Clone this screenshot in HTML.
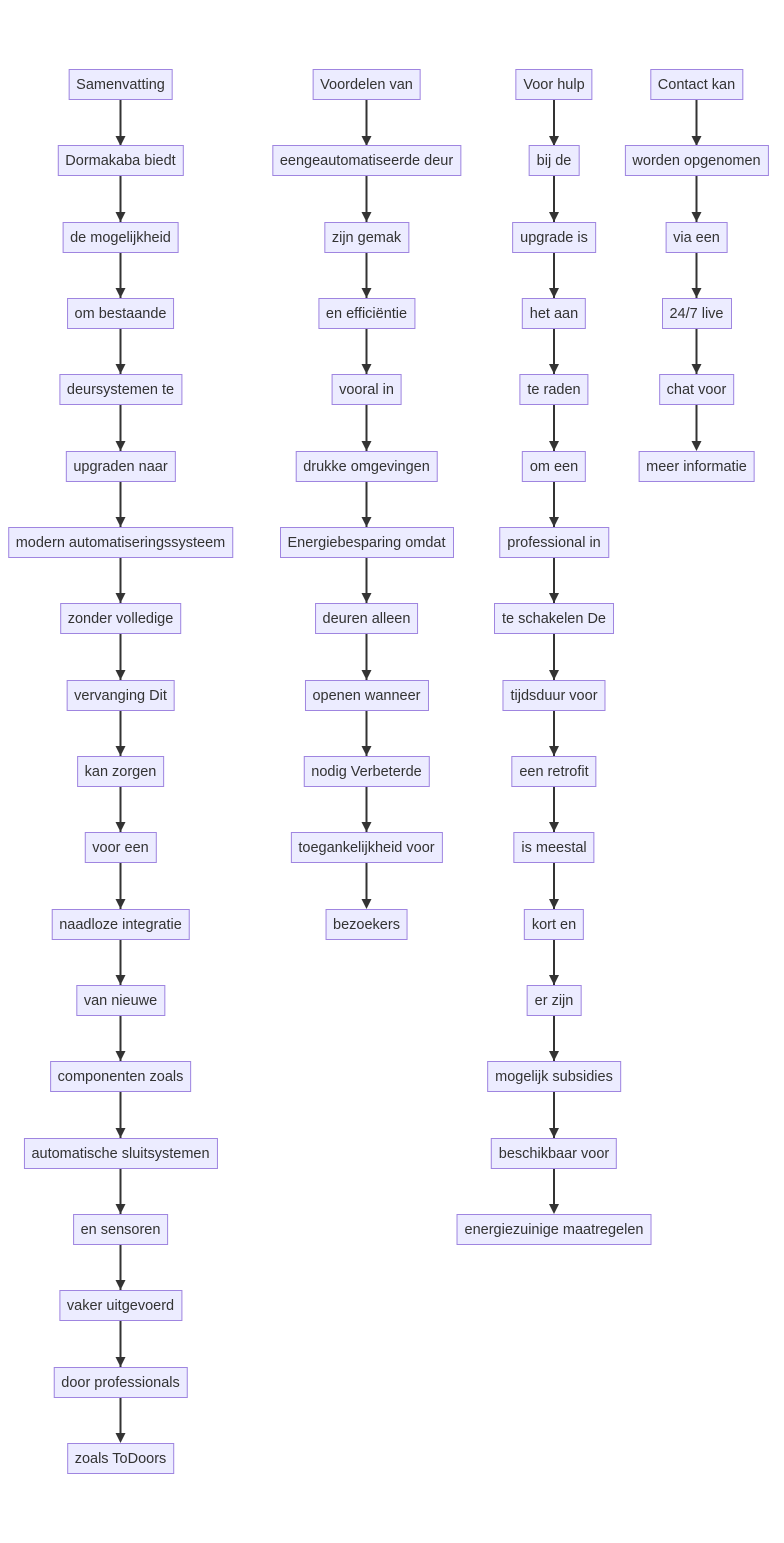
<!DOCTYPE html>
<html><head><meta charset="utf-8"><style>
body{margin:0;width:784px;height:1543px;background:#fff;position:relative;overflow:hidden;font-family:"Liberation Sans",Arial,sans-serif;}
svg{position:absolute;left:0;top:0}
.b{position:absolute;transform:translateX(-50%);height:29px;line-height:31px;padding:0 7px;border:1px solid #9f85e0;background:#ECECFF;color:#333;font-size:14.5px;white-space:nowrap;box-sizing:content-box}
</style></head><body>
<svg width="784" height="1543">
<g stroke="#333" stroke-width="2">
<line x1="120.5" y1="100" x2="120.5" y2="1436"/>
<line x1="366.5" y1="100" x2="366.5" y2="902"/>
<line x1="554" y1="100" x2="554" y2="1207"/>
<line x1="696.5" y1="100" x2="696.5" y2="444"/>
</g>
<g fill="#333">
<polygon points="115.5,136 125.5,136 120.5,146"/><polygon points="115.5,212 125.5,212 120.5,222"/><polygon points="115.5,288 125.5,288 120.5,298"/><polygon points="115.5,364 125.5,364 120.5,374"/><polygon points="115.5,441 125.5,441 120.5,451"/><polygon points="115.5,517 125.5,517 120.5,527"/><polygon points="115.5,593 125.5,593 120.5,603"/><polygon points="115.5,670 125.5,670 120.5,680"/><polygon points="115.5,746 125.5,746 120.5,756"/><polygon points="115.5,822 125.5,822 120.5,832"/><polygon points="115.5,899 125.5,899 120.5,909"/><polygon points="115.5,975 125.5,975 120.5,985"/><polygon points="115.5,1051 125.5,1051 120.5,1061"/><polygon points="115.5,1128 125.5,1128 120.5,1138"/><polygon points="115.5,1204 125.5,1204 120.5,1214"/><polygon points="115.5,1280 125.5,1280 120.5,1290"/><polygon points="115.5,1357 125.5,1357 120.5,1367"/><polygon points="115.5,1433 125.5,1433 120.5,1443"/>
<polygon points="361.5,136 371.5,136 366.5,146"/><polygon points="361.5,212 371.5,212 366.5,222"/><polygon points="361.5,288 371.5,288 366.5,298"/><polygon points="361.5,364 371.5,364 366.5,374"/><polygon points="361.5,441 371.5,441 366.5,451"/><polygon points="361.5,517 371.5,517 366.5,527"/><polygon points="361.5,593 371.5,593 366.5,603"/><polygon points="361.5,670 371.5,670 366.5,680"/><polygon points="361.5,746 371.5,746 366.5,756"/><polygon points="361.5,822 371.5,822 366.5,832"/><polygon points="361.5,899 371.5,899 366.5,909"/>
<polygon points="549,136 559,136 554,146"/><polygon points="549,212 559,212 554,222"/><polygon points="549,288 559,288 554,298"/><polygon points="549,364 559,364 554,374"/><polygon points="549,441 559,441 554,451"/><polygon points="549,517 559,517 554,527"/><polygon points="549,593 559,593 554,603"/><polygon points="549,670 559,670 554,680"/><polygon points="549,746 559,746 554,756"/><polygon points="549,822 559,822 554,832"/><polygon points="549,899 559,899 554,909"/><polygon points="549,975 559,975 554,985"/><polygon points="549,1051 559,1051 554,1061"/><polygon points="549,1128 559,1128 554,1138"/><polygon points="549,1204 559,1204 554,1214"/>
<polygon points="691.5,136 701.5,136 696.5,146"/><polygon points="691.5,212 701.5,212 696.5,222"/><polygon points="691.5,288 701.5,288 696.5,298"/><polygon points="691.5,364 701.5,364 696.5,374"/><polygon points="691.5,441 701.5,441 696.5,451"/>
</g>
</svg>
<div class="b" style="left:120.5px;top:69px">Samenvatting</div>
<div class="b" style="left:120.5px;top:145px">Dormakaba biedt</div>
<div class="b" style="left:120.5px;top:222px">de mogelijkheid</div>
<div class="b" style="left:120.5px;top:298px">om bestaande</div>
<div class="b" style="left:120.5px;top:374px">deursystemen te</div>
<div class="b" style="left:120.5px;top:451px">upgraden naar</div>
<div class="b" style="left:120.5px;top:527px">modern automatiseringssysteem</div>
<div class="b" style="left:120.5px;top:603px">zonder volledige</div>
<div class="b" style="left:120.5px;top:680px">vervanging Dit</div>
<div class="b" style="left:120.5px;top:756px">kan zorgen</div>
<div class="b" style="left:120.5px;top:832px">voor een</div>
<div class="b" style="left:120.5px;top:909px">naadloze integratie</div>
<div class="b" style="left:120.5px;top:985px">van nieuwe</div>
<div class="b" style="left:120.5px;top:1061px">componenten zoals</div>
<div class="b" style="left:120.5px;top:1138px">automatische sluitsystemen</div>
<div class="b" style="left:120.5px;top:1214px">en sensoren</div>
<div class="b" style="left:120.5px;top:1290px">vaker uitgevoerd</div>
<div class="b" style="left:120.5px;top:1367px">door professionals</div>
<div class="b" style="left:120.5px;top:1443px">zoals ToDoors</div>

<div class="b" style="left:366.5px;top:69px">Voordelen van</div>
<div class="b" style="left:366.5px;top:145px">eengeautomatiseerde deur</div>
<div class="b" style="left:366.5px;top:222px">zijn gemak</div>
<div class="b" style="left:366.5px;top:298px">en efficiëntie</div>
<div class="b" style="left:366.5px;top:374px">vooral in</div>
<div class="b" style="left:366.5px;top:451px">drukke omgevingen</div>
<div class="b" style="left:366.5px;top:527px">Energiebesparing omdat</div>
<div class="b" style="left:366.5px;top:603px">deuren alleen</div>
<div class="b" style="left:366.5px;top:680px">openen wanneer</div>
<div class="b" style="left:366.5px;top:756px">nodig Verbeterde</div>
<div class="b" style="left:366.5px;top:832px">toegankelijkheid voor</div>
<div class="b" style="left:366.5px;top:909px">bezoekers</div>

<div class="b" style="left:554px;top:69px">Voor hulp</div>
<div class="b" style="left:554px;top:145px">bij de</div>
<div class="b" style="left:554px;top:222px">upgrade is</div>
<div class="b" style="left:554px;top:298px">het aan</div>
<div class="b" style="left:554px;top:374px">te raden</div>
<div class="b" style="left:554px;top:451px">om een</div>
<div class="b" style="left:554px;top:527px">professional in</div>
<div class="b" style="left:554px;top:603px">te schakelen De</div>
<div class="b" style="left:554px;top:680px">tijdsduur voor</div>
<div class="b" style="left:554px;top:756px">een retrofit</div>
<div class="b" style="left:554px;top:832px">is meestal</div>
<div class="b" style="left:554px;top:909px">kort en</div>
<div class="b" style="left:554px;top:985px">er zijn</div>
<div class="b" style="left:554px;top:1061px">mogelijk subsidies</div>
<div class="b" style="left:554px;top:1138px">beschikbaar voor</div>
<div class="b" style="left:554px;top:1214px">energiezuinige maatregelen</div>

<div class="b" style="left:696.5px;top:69px">Contact kan</div>
<div class="b" style="left:696.5px;top:145px">worden opgenomen</div>
<div class="b" style="left:696.5px;top:222px">via een</div>
<div class="b" style="left:696.5px;top:298px">24/7 live</div>
<div class="b" style="left:696.5px;top:374px">chat voor</div>
<div class="b" style="left:696.5px;top:451px">meer informatie</div>
</body></html>
